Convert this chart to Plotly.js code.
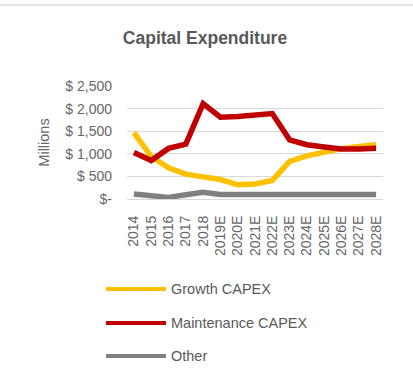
<!DOCTYPE html>
<html>
<head>
<meta charset="utf-8">
<script src="https://cdn.plot.ly/plotly-3.0.1.min.js"></script>
<style>
  html, body { margin: 0; padding: 0; background: #fff; }
  #chart { width: 413px; height: 387px; }
</style>
</head>
<body>
<div id="chart"></div>
<script>
// Capital expenditure by year, $ millions
var years = ['2014', '2015', '2016', '2017', '2018', '2019E', '2020E', '2021E',
             '2022E', '2023E', '2024E', '2025E', '2026E', '2027E', '2028E'];
var growthCapex = [1470, 940, 690, 550, 490, 430, 315, 330, 410, 830, 955, 1050, 1115, 1160, 1200];
var maintenanceCapex = [1030, 850, 1120, 1215, 2110, 1810, 1825, 1860, 1890, 1310, 1200, 1150, 1105, 1105, 1125];
var otherCapex = [110, 70, 35, 95, 150, 100, 100, 100, 100, 100, 100, 100, 100, 100, 100];

var yTickVals = [0, 500, 1000, 1500, 2000, 2500];
var yTickText = ['$-', '$ 500', '$ 1,000', '$ 1,500', '$ 2,000', '$ 2,500'];

var seriesNames = ['Growth CAPEX', 'Maintenance CAPEX', 'Other'];
var seriesColors = ['#ffc000', '#c00000', '#808080'];
var seriesValues = [growthCapex, maintenanceCapex, otherCapex];

var W = 413, H = 387;
var M = { l: 127, r: 30, t: 86, b: 188 };
var plotW = W - M.l - M.r, plotH = H - M.t - M.b;
function px2x(px) { return (px - M.l) / plotW; }
function px2y(py) { return (H - M.b - py) / plotH; }

var traces = seriesNames.map(function (name, i) {
  return {
    type: 'scatter',
    mode: 'lines',
    name: name,
    x: years,
    y: seriesValues[i],
    line: { color: seriesColors[i], width: 5.5, shape: 'linear' },
    showlegend: false,
    hoverinfo: 'skip'
  };
});

// Legend drawn below the plot: a wide swatch line followed by the label
var shapes = [
  { type: 'line', xref: 'paper', yref: 'paper', x0: px2x(0), x1: px2x(W), y0: px2y(5), y1: px2y(5),
    line: { color: '#e3e3e3', width: 2 } }
];
var annotations = [];
var legendRows = [289, 323, 356];
seriesNames.forEach(function (name, i) {
  shapes.push({
    type: 'line', xref: 'paper', yref: 'paper',
    x0: px2x(106), x1: px2x(166), y0: px2y(legendRows[i]), y1: px2y(legendRows[i]),
    line: { color: seriesColors[i], width: 4 }
  });
  annotations.push({
    xref: 'paper', yref: 'paper', x: px2x(169), y: px2y(legendRows[i]),
    xanchor: 'left', yanchor: 'middle', showarrow: false,
    text: name, font: { family: 'Liberation Sans, Arial, sans-serif', size: 14.5, color: '#595959' }
  });
});

var layout = {
  width: W, height: H,
  margin: M,
  paper_bgcolor: '#ffffff',
  plot_bgcolor: '#ffffff',
  font: { family: 'Liberation Sans, Arial, sans-serif', color: '#595959' },
  title: {
    text: '<b>Capital Expenditure</b>',
    font: { size: 17.5, color: '#595959' },
    x: 205 / W, xanchor: 'center', xref: 'container',
    y: 1 - 38 / H, yanchor: 'middle', yref: 'container'
  },
  xaxis: {
    type: 'category',
    categoryorder: 'array', categoryarray: years,
    range: [-0.4, 14.4],
    tickangle: -90,
    tickfont: { size: 14, color: '#666666' },
    showgrid: false,
    showline: true, linecolor: '#d9d9d9', linewidth: 1,
    ticks: '', ticklabelstandoff: 10,
    zeroline: false, fixedrange: true
  },
  yaxis: {
    range: [0, 2500],
    tickvals: yTickVals, ticktext: yTickText,
    tickfont: { size: 14, color: '#666666' },
    showgrid: true, gridcolor: '#d9d9d9', gridwidth: 1,
    zeroline: false, showline: false,
    ticks: '', ticklabelstandoff: 14,
    title: { text: 'Millions', font: { size: 14.5, color: '#666666' }, standoff: 12 },
    fixedrange: true
  },
  shapes: shapes,
  annotations: annotations,
  showlegend: false
};

Plotly.newPlot('chart', traces, layout, { displayModeBar: false, staticPlot: true });
</script>
</body>
</html>
